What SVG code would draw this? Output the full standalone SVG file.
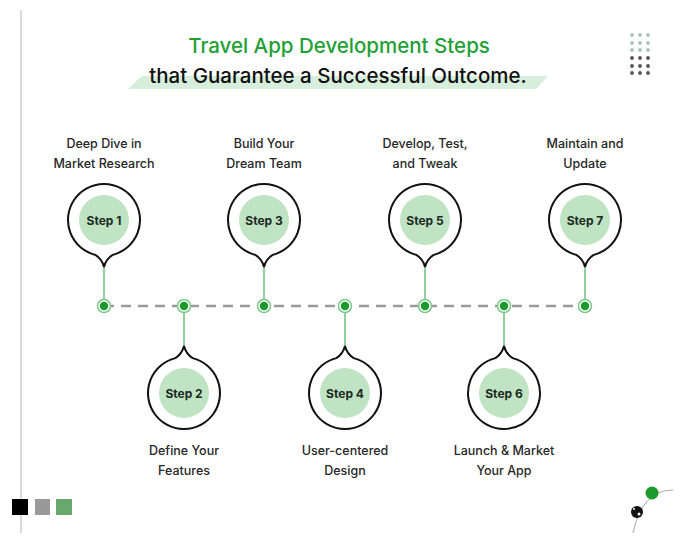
<svg xmlns="http://www.w3.org/2000/svg" xmlns:xlink="http://www.w3.org/1999/xlink" width="700" height="545" viewBox="0 0 700 545">
<style>
.title{font-family:Inter,"Liberation Sans",Arial,sans-serif;font-size:20.5px;font-weight:500;text-anchor:middle}
.lbl{font-family:Inter,"Liberation Sans",Arial,sans-serif;font-size:12.5px;font-weight:500;fill:#262626;text-anchor:middle}
.step{font-family:Inter,"Liberation Sans",Arial,sans-serif;font-size:12px;font-weight:700;fill:#1b2a1f;text-anchor:middle}
.pin{fill:#fff;stroke:#111;stroke-width:2}
.inner{fill:#bfe3c3}
.conn{stroke:#6cc07a;stroke-width:1.5;fill:none}
.ring{fill:#fff;stroke:#7cc98a;stroke-width:1.5}
.dot{fill:#1a9a2a}
.gl{fill:#a9c2ba}
.gd{fill:#555}
</style>
<defs>
<path id="pin" d="M -8.7 34.9 A 36 36 0 1 1 8.7 34.9 Q 2 39 0 47 Q -2 39 -8.7 34.9 Z"/>
</defs>
<rect width="700" height="545" fill="#fff"/>
<line x1="21" y1="10" x2="21" y2="533" stroke="#cfcfcf" stroke-width="1.5"/>

<polygon points="128,89 142,76 548,76 536,89" fill="#d6eedb"/>
<text class="title" x="339" y="53" fill="#22a035">Travel App Development Steps</text>
<text class="title" x="338" y="83" fill="#111">that Guarantee a Successful Outcome.</text>

<g id="dotgrid">
<circle class="gl" cx="632" cy="35" r="1.9"/><circle class="gl" cx="640" cy="35" r="1.9"/><circle class="gl" cx="648" cy="35" r="1.9"/>
<circle class="gl" cx="632" cy="43" r="1.9"/><circle class="gl" cx="640" cy="43" r="1.9"/><circle class="gl" cx="648" cy="43" r="1.9"/>
<circle class="gl" cx="632" cy="50" r="1.9"/><circle class="gl" cx="640" cy="50" r="1.9"/><circle class="gl" cx="648" cy="50" r="1.9"/>
<circle class="gd" cx="632" cy="58" r="1.9"/><circle class="gd" cx="640" cy="58" r="1.9"/><circle class="gd" cx="648" cy="58" r="1.9"/>
<circle class="gd" cx="632" cy="66" r="1.9"/><circle class="gd" cx="640" cy="66" r="1.9"/><circle class="gd" cx="648" cy="66" r="1.9"/>
<circle class="gd" cx="632" cy="73" r="1.9"/><circle class="gd" cx="640" cy="73" r="1.9"/><circle class="gd" cx="648" cy="73" r="1.9"/>
</g>

<g id="connectors">
<line x1="104" y1="306" x2="585" y2="306" stroke="#9a9a9a" stroke-width="2.5" stroke-dasharray="10 7"/>
<line class="conn" x1="104" y1="267" x2="104" y2="306"/>
<line class="conn" x1="264" y1="267" x2="264" y2="306"/>
<line class="conn" x1="425" y1="267" x2="425" y2="306"/>
<line class="conn" x1="585" y1="267" x2="585" y2="306"/>
<line class="conn" x1="184" y1="306" x2="184" y2="346"/>
<line class="conn" x1="345" y1="306" x2="345" y2="346"/>
<line class="conn" x1="504" y1="306" x2="504" y2="346"/>
<circle class="ring" cx="104" cy="306" r="6.5"/><circle class="dot" cx="104" cy="306" r="4.2"/>
<circle class="ring" cx="184" cy="306" r="6.5"/><circle class="dot" cx="184" cy="306" r="4.2"/>
<circle class="ring" cx="264" cy="306" r="6.5"/><circle class="dot" cx="264" cy="306" r="4.2"/>
<circle class="ring" cx="345" cy="306" r="6.5"/><circle class="dot" cx="345" cy="306" r="4.2"/>
<circle class="ring" cx="425" cy="306" r="6.5"/><circle class="dot" cx="425" cy="306" r="4.2"/>
<circle class="ring" cx="504" cy="306" r="6.5"/><circle class="dot" cx="504" cy="306" r="4.2"/>
<circle class="ring" cx="585" cy="306" r="6.5"/><circle class="dot" cx="585" cy="306" r="4.2"/>
</g>

<g id="step1">
<use href="#pin" class="pin" transform="translate(104,220)"/>
<circle class="inner" cx="104" cy="220" r="25"/>
<text class="step" x="104" y="224.5">Step 1</text>
<text class="lbl" x="104" y="148">Deep Dive in</text>
<text class="lbl" x="104" y="168">Market Research</text>
</g>
<g id="step3">
<use href="#pin" class="pin" transform="translate(264,220)"/>
<circle class="inner" cx="264" cy="220" r="25"/>
<text class="step" x="264" y="224.5">Step 3</text>
<text class="lbl" x="264" y="148">Build Your</text>
<text class="lbl" x="264" y="168">Dream Team</text>
</g>
<g id="step5">
<use href="#pin" class="pin" transform="translate(425,220)"/>
<circle class="inner" cx="425" cy="220" r="25"/>
<text class="step" x="425" y="224.5">Step 5</text>
<text class="lbl" x="425" y="148">Develop, Test,</text>
<text class="lbl" x="425" y="168">and Tweak</text>
</g>
<g id="step7">
<use href="#pin" class="pin" transform="translate(585,220)"/>
<circle class="inner" cx="585" cy="220" r="25"/>
<text class="step" x="585" y="224.5">Step 7</text>
<text class="lbl" x="585" y="148">Maintain and</text>
<text class="lbl" x="585" y="168">Update</text>
</g>
<g id="step2">
<use href="#pin" class="pin" transform="translate(184,393) rotate(180)"/>
<circle class="inner" cx="184" cy="393" r="25"/>
<text class="step" x="184" y="397.5">Step 2</text>
<text class="lbl" x="184" y="455">Define Your</text>
<text class="lbl" x="184" y="475">Features</text>
</g>
<g id="step4">
<use href="#pin" class="pin" transform="translate(345,393) rotate(180)"/>
<circle class="inner" cx="345" cy="393" r="25"/>
<text class="step" x="345" y="397.5">Step 4</text>
<text class="lbl" x="345" y="455">User-centered</text>
<text class="lbl" x="345" y="475">Design</text>
</g>
<g id="step6">
<use href="#pin" class="pin" transform="translate(504,393) rotate(180)"/>
<circle class="inner" cx="504" cy="393" r="25"/>
<text class="step" x="504" y="397.5">Step 6</text>
<text class="lbl" x="504" y="455">Launch &amp; Market</text>
<text class="lbl" x="504" y="475">Your App</text>
</g>

<g id="squares">
<rect x="12" y="499" width="16" height="16" fill="#000"/>
<rect x="35" y="499" width="15" height="16" fill="#999"/>
<rect x="56" y="499" width="16" height="16" fill="#67a96d"/>
</g>

<g id="orbit">
<path d="M 673 490 Q 642 490 633 533" fill="none" stroke="#aaa" stroke-width="1"/>
<circle cx="652" cy="493" r="6.5" fill="#1a9a2a"/>
<circle cx="637" cy="512" r="6" fill="#111"/>
<circle cx="639" cy="514" r="1.5" fill="#fff"/>
<circle cx="634" cy="509" r="1" fill="#fff"/>
</g>
</svg>
